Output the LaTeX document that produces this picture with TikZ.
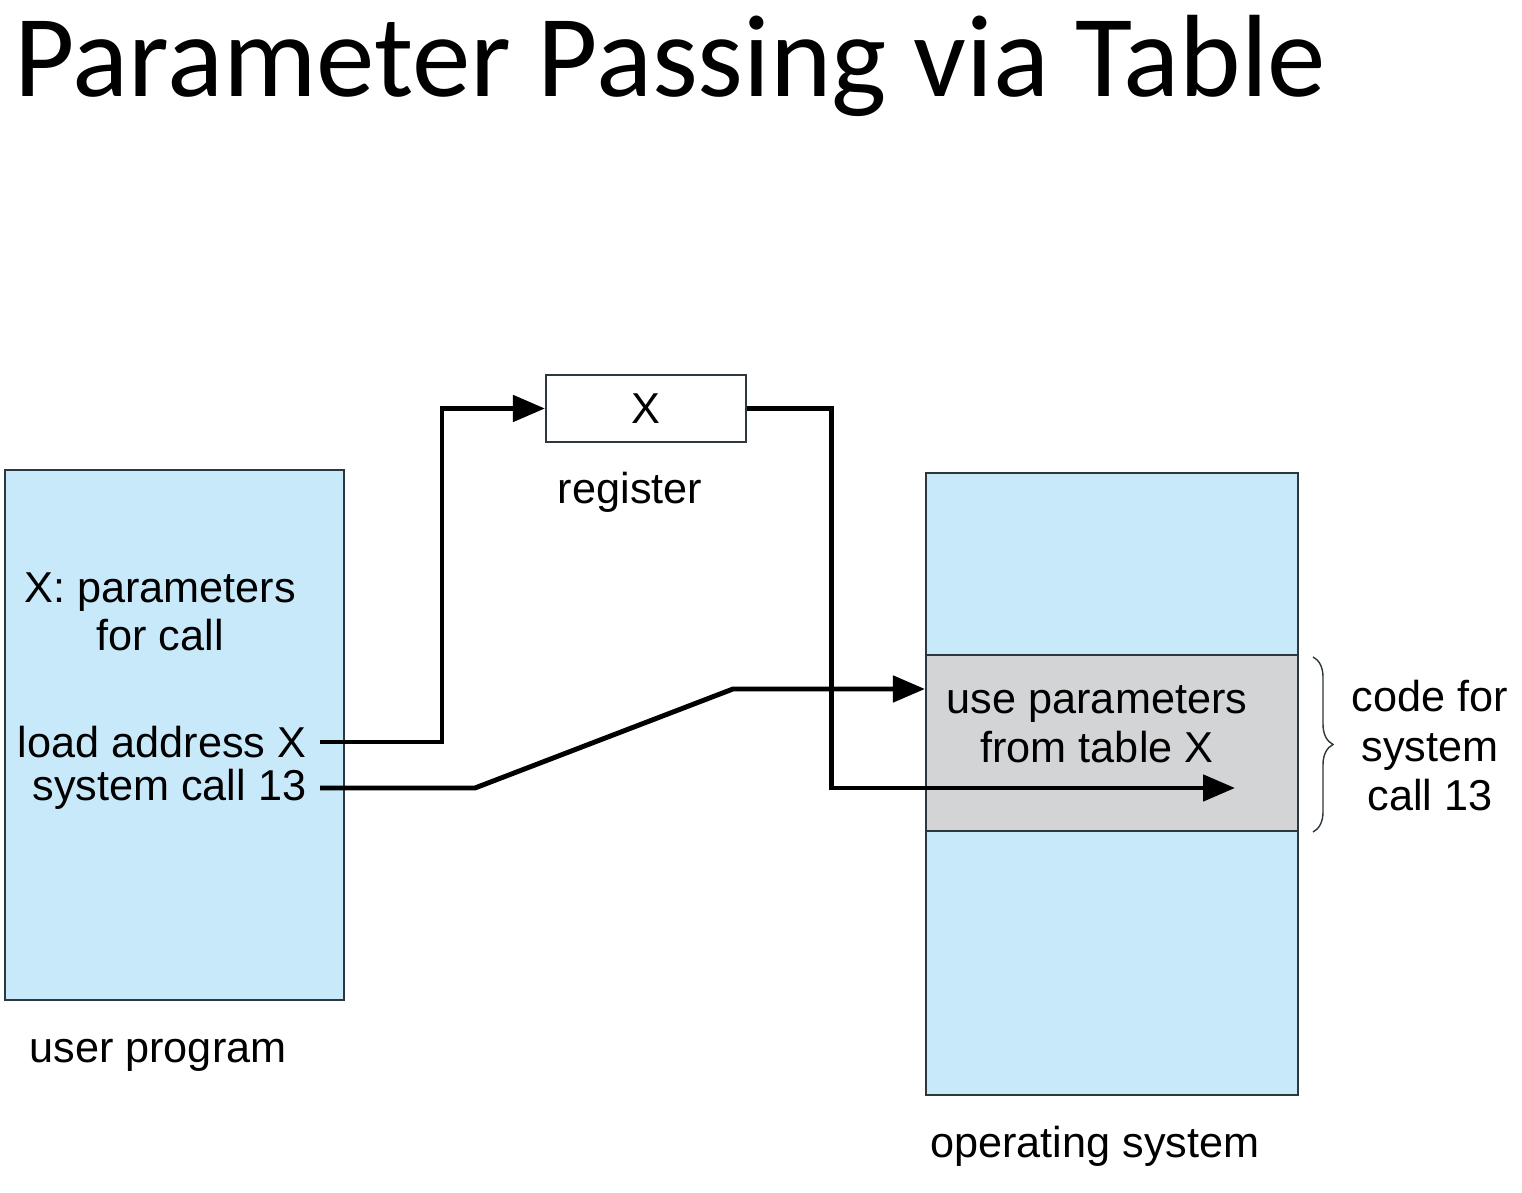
\documentclass[tikz,border=0pt]{standalone}
\usepackage{fontspec}
\setmainfont{Liberation Sans}
\newfontfamily\titlefont{Carlito}
\usetikzlibrary{arrows.meta,decorations.pathreplacing}

\definecolor{memblue}{RGB}{200,233,249}
\definecolor{codegray}{RGB}{211,212,214}
\definecolor{edgecol}{RGB}{45,55,62}

\tikzset{
  membox/.style={draw=edgecol,line width=0.6pt,fill=memblue},
  codebox/.style={draw=edgecol,line width=0.6pt,fill=codegray},
  regbox/.style={draw=edgecol,line width=0.6pt,fill=white,minimum width=2cm,minimum height=0.67cm,inner sep=0pt},
  lbl/.style={font=\fontsize{12.3}{13.8}\selectfont,align=center,inner sep=0pt},
  arr/.style={line width=1.4pt,-{Triangle[length=0.32cm,width=0.26cm]}}
}

\begin{document}
\begin{tikzpicture}
  \useasboundingbox (0,0) rectangle (15.22,11.93);

  % title
  \node[anchor=base west,inner sep=0pt,font=\titlefont\fontsize{33.3}{36}\selectfont] (title) at (0.14,10.96) {Parameter Passing via Table};

  % user program
  \draw[membox] (0.05,1.93) rectangle (3.44,7.23);
  \node[lbl] (params) at (1.60,5.81) {X: parameters\\for call};
  \node[lbl,anchor=east] (load) at (3.07,4.51) {load address X};
  \node[lbl,anchor=east] (sys) at (3.07,4.04) {system call 13};
  \node[lbl] (user) at (1.58,1.38) {user program};

  % register
  \node[regbox,lbl] (reg) at (6.46,7.845) {X};
  \node[lbl] (reglbl) at (6.30,7.01) {register};

  % operating system
  \node[membox,minimum width=3.72cm,minimum height=6.22cm,inner sep=0pt] (os) at (11.12,4.09) {};
  \node[codebox,minimum width=3.72cm,minimum height=1.76cm,inner sep=0pt] (band) at (11.12,4.50) {};
  \node[lbl] (use) at (10.97,4.69) {use parameters\\from table X};
  \node[lbl] (oslbl) at (10.95,0.47) {operating system};

  \draw[decorate,decoration={brace,amplitude=0.2cm},line width=0.4pt,draw=edgecol]
    (13.13,5.36) -- (13.13,3.61);
  \node[lbl,font=\fontsize{12.3}{14.1}\selectfont] (code) at (14.30,4.47) {code for\\system\\call 13};

  % connectors
  \coordinate (bend) at (7.33,5.04);
  \coordinate (tip) at (12.35,4.05);
  \draw[arr] ([xshift=0.13cm]load.east) -- ++(1.22,0) |- (reg.west);
  \draw[arr] (reg.east) -- ++(0.84,0) |- (tip);
  \draw[arr] ([xshift=0.13cm]sys.east |- tip) -- ++(1.55,0) -- (bend) -- (os.west |- bend);
\end{tikzpicture}
\end{document}
